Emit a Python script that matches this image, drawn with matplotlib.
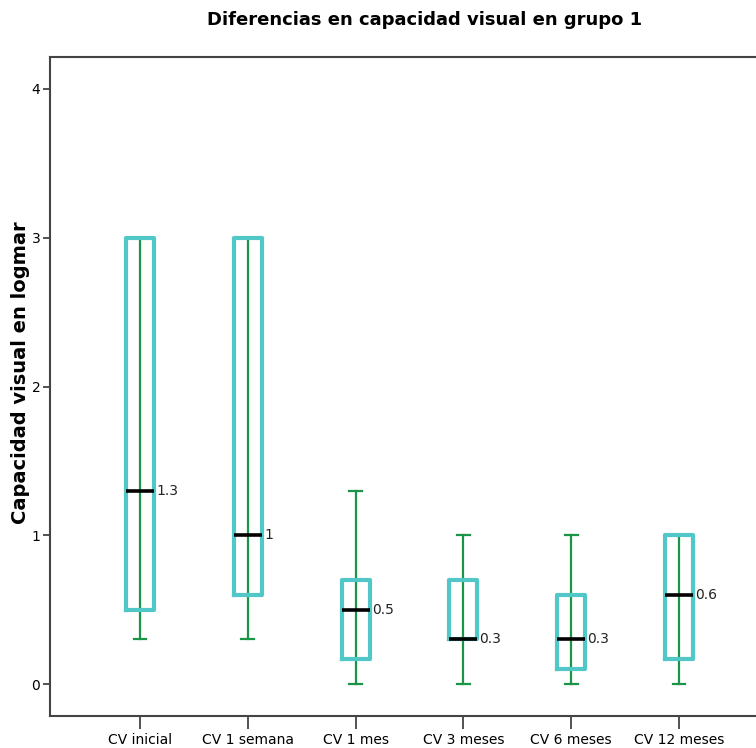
import matplotlib
matplotlib.use("Agg")
import matplotlib.pyplot as plt
from matplotlib import font_manager

categories = ["CV inicial", "CV 1 semana", "CV 1 mes", "CV 3 meses", "CV 6 meses", "CV 12 meses"]
whisker_low = [0.3, 0.3, 0.0, 0.0, 0.0, 0.0]
q1 = [0.5, 0.6, 0.17, 0.3, 0.1, 0.17]
median = [1.3, 1.0, 0.5, 0.3, 0.3, 0.6]
q3 = [3.0, 3.0, 0.7, 0.7, 0.6, 1.0]
whisker_high = [3.0, 3.0, 1.3, 1.0, 1.0, 1.0]
median_labels = ["1.3", "1", "0.5", "0.3", "0.3", "0.6"]
yticks = [0, 1, 2, 3, 4]

BOX = "#52C7C7"
WHISK = "#1A9447"
AXC = "#444444"

installed = {f.name for f in font_manager.fontManager.ttflist}
narrow = [f for f in ["DejaVu Sans Condensed", "Liberation Sans Narrow"] if f in installed] + ["DejaVu Sans"]
is_narrow = len(narrow) > 1

fig = plt.figure(figsize=(7.56, 7.48), dpi=100)
ax = fig.add_axes([50 / 756, 1 - 716 / 748, (769 - 50) / 756, (716 - 57) / 748])

stats = []
for i, c in enumerate(categories):
    stats.append(dict(label=c, whislo=whisker_low[i], q1=q1[i], med=median[i],
                      q3=q3[i], whishi=whisker_high[i], fliers=[]))

positions = list(range(len(categories)))
box_w = 0.26
ax.vlines(positions, q1, q3, color=WHISK, lw=1.6, zorder=1)
ax.bxp(stats, positions=positions, widths=box_w, showfliers=False,
       boxprops=dict(color=BOX, lw=3.0, zorder=3),
       whiskerprops=dict(color=WHISK, lw=1.6, zorder=1),
       capprops=dict(color=WHISK, lw=1.6, zorder=1),
       medianprops=dict(color="black", lw=2.6, zorder=4),
       capwidths=0.12, manage_ticks=False)

small = 11 if is_narrow else 10
for p, m, lab in zip(positions, median, median_labels):
    ax.text(p + box_w / 2 + 0.02, m, lab, va="center", ha="left",
            fontsize=small, family=narrow, color="#222222")

ax.set_xlim(-0.835, 5.835)
ax.set_ylim(-0.215, 4.215)
ax.set_yticks(yticks)
ax.set_yticklabels([str(t) for t in yticks], family=narrow, fontsize=small)
ax.set_xticks(positions)
ax.set_xticklabels(categories, family=narrow, fontsize=small)
ax.tick_params(axis="y", direction="out", length=5, width=1.3, color=AXC, pad=2)
ax.tick_params(axis="x", direction="out", length=9, width=1.3, color=AXC, pad=3)

for s in ["left", "bottom", "top", "right"]:
    ax.spines[s].set_color(AXC)
    ax.spines[s].set_linewidth(1.5)

fig.text(425 / 756, 1 - 20 / 748, "Diferencias en capacidad visual en grupo 1",
         ha="center", va="center", fontsize=14.5 if is_narrow else 13,
         fontweight="bold", family=narrow)
fig.text(21 / 756, 1 - 373 / 748, "Capacidad visual en logmar", rotation=90,
         ha="center", va="center", fontsize=14, fontweight="bold", family=["DejaVu Sans"])

fig.savefig("out.png", dpi=100)
